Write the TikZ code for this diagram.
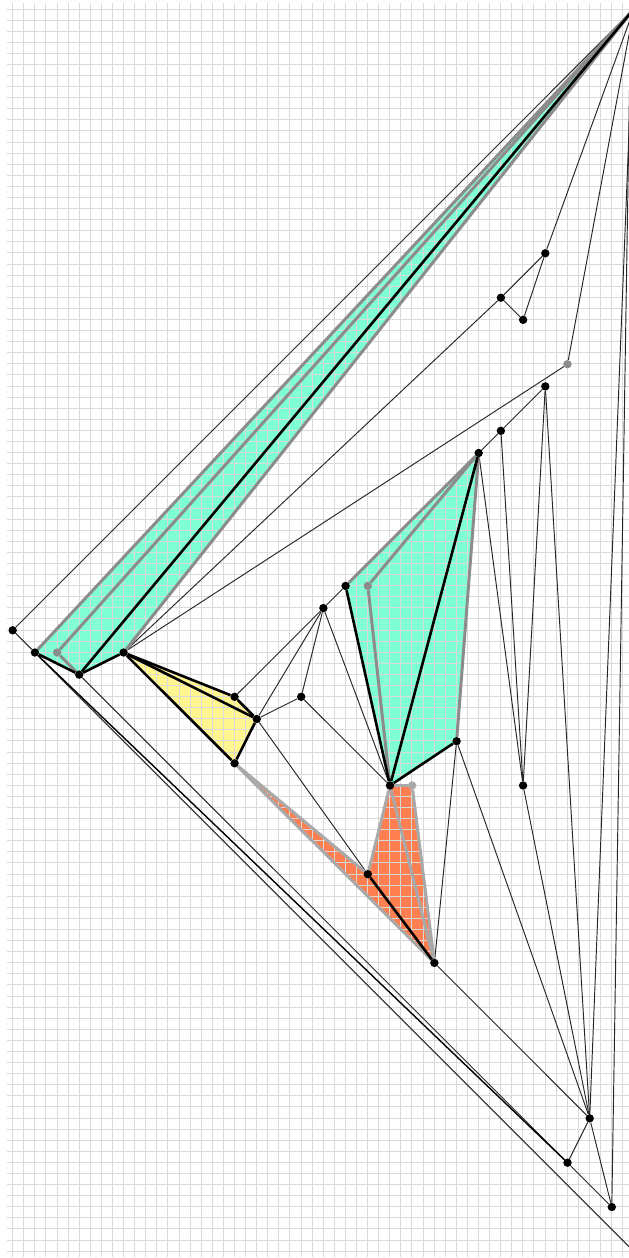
\documentclass[tikz,border=0pt]{standalone}
\pgfdeclarelayer{fills}
\pgfdeclarelayer{edges}
\pgfsetlayers{fills,edges,main}
\definecolor{gridc}{HTML}{DADADA}
\definecolor{aqua}{HTML}{7FFFD4}
\definecolor{coralc}{HTML}{FF7F50}
\definecolor{khakic}{HTML}{FFF68F}
\definecolor{grayA}{HTML}{8C8C8C}
\definecolor{grayB}{HTML}{A9A9A9}
\tikzset{
  pt/.style={circle,fill=black,inner sep=0pt,minimum size=8.4pt},
  ptgray/.style={pt,fill=grayA},
  ptlight/.style={pt,fill=grayB},
  thin edge/.style={draw=black!85,line width=0.95pt},
  mid edge/.style={draw=black,line width=1.4pt},
  bold edge/.style={draw=black,line width=2.6pt},
  gray edge/.style={draw=grayA,line width=3pt},
  light edge/.style={draw=grayB,line width=3pt},
  gridline/.style={draw=gridc,line width=1pt},
}
\begin{document}
\begin{tikzpicture}[x=1pt,y=-1pt]
\useasboundingbox (0,0) rectangle (629,1258);
\clip (0,0) rectangle (629,1258);
% points
\node[pt] (A) at (12.7,630.3) {};
\coordinate (Z) at (633.9,9);
\coordinate (Zb) at (633.9,1251.5);
\coordinate (Zc) at (633.9,-190);
\node[pt] (B) at (34.9,652.5) {};
\node[ptgray] (G) at (57.1,652.5) {};
\node[pt] (C) at (79.2,674.6) {};
\node[pt] (D) at (123.6,652.5) {};
\node[pt] (E) at (234.6,696.8) {};
\node[pt] (F) at (256.8,719) {};
\node[pt] (H) at (234.6,763.3) {};
\node[pt] (I) at (301.2,696.8) {};
\node[pt] (J) at (323.4,608.1) {};
\node[pt] (K) at (345.6,585.9) {};
\node[ptgray] (L) at (367.8,585.9) {};
\node[pt] (M) at (390,785.5) {};
\node[ptlight] (N) at (412.1,785.5) {};
\node[pt] (O) at (367.8,874.2) {};
\node[pt] (P) at (434.4,962.9) {};
\node[pt] (Q) at (456.6,741.2) {};
\node[pt] (R) at (478.7,453) {};
\node[pt] (S) at (500.9,430.8) {};
\node[pt] (T) at (545.3,386.4) {};
\node[pt] (U) at (523.1,785.5) {};
\node[pt] (V) at (589.7,1118.3) {};
\node[pt] (W) at (567.5,1162.7) {};
\node[pt] (X) at (611.8,1207) {};
\node[pt] (Y) at (500.9,297.7) {};
\node[pt] (AA) at (523.1,319.8) {};
\node[pt] (AB) at (545.3,253.3) {};
\node[ptgray] (AC) at (567.5,364.2) {};
% fills and grid
\begin{pgfonlayer}{fills}
\fill[aqua] (B.center)--(Z)--(D.center)--(C.center)--cycle;
\fill[aqua] (K.center)--(R.center)--(Q.center)--(M.center)--cycle;
\fill[khakic] (D.center)--(E.center)--(F.center)--(H.center)--cycle;
\fill[coralc] (H.center)--(O.center)--(M.center)--(N.center)--(P.center)--cycle;
\foreach \i in {0,...,55} \draw[gridline] ({12.7+11.09*\i},3.4)--({12.7+11.09*\i},1257);
\foreach \i in {0,...,112} \draw[gridline] (7.1,{9+11.09*\i})--(629,{9+11.09*\i});
\end{pgfonlayer}
\begin{pgfonlayer}{edges}
% thin edges
\draw[thin edge] (A)--(Z);
\draw[thin edge] (A)--(B);
\draw[thin edge] (B)--(Zb);
\draw[thin edge] (C)--(W);
\draw[thin edge] (W)--(X);
\draw[mid edge] (B)--(W);
\draw[thin edge] (W)--(V);
\draw[thin edge] (V)--(X);
\draw[thin edge] (X)--(Zc);
\draw[thin edge] (V)--(Z);
\draw[thin edge] (P)--(V);
\draw[thin edge] (D)--(AC);
\draw[thin edge] (AC)--(Z);
\draw[thin edge] (D)--(Y);
\draw[thin edge] (Y)--(AB);
\draw[thin edge] (Y)--(AA);
\draw[thin edge] (AA)--(AB);
\draw[thin edge] (AB)--(Z);
\draw[thin edge] (E)--(J);
\draw[thin edge] (F)--(J);
\draw[thin edge] (F)--(I);
\draw[thin edge] (I)--(J);
\draw[thin edge] (I)--(M);
\draw[thin edge] (J)--(M);
\draw[thin edge] (J)--(K);
\draw[thin edge] (F)--(O);
\draw[thin edge] (R)--(S);
\draw[thin edge] (S)--(T);
\draw[thin edge] (R)--(U);
\draw[thin edge] (S)--(U);
\draw[thin edge] (T)--(U);
\draw[thin edge] (T)--(V);
\draw[thin edge] (U)--(V);
\draw[thin edge] (Q)--(V);
\draw[thin edge] (Q)--(P);
% gray edges
\draw[gray edge] (B)--(Z);
\draw[gray edge] (G)--(Z);
\draw[gray edge] (D)--(Z);
\draw[gray edge] (G)--(C);
\draw[gray edge] (K)--(R);
\draw[gray edge] (L)--(R);
\draw[gray edge] (L)--(M);
\draw[gray edge] (R)--(Q);
\draw[light edge] (H)--(O);
\draw[light edge] (H)--(P);
\draw[light edge] (O)--(M);
\draw[light edge] (M)--(N);
\draw[light edge] (N)--(P);
\draw[light edge] (M)--(P);
% bold edges
\draw[bold edge] (B)--(C);
\draw[bold edge] (C)--(D);
\draw[bold edge] (C)--(Z);
\draw[bold edge] (D)--(E);
\draw[bold edge] (E)--(F);
\draw[bold edge] (D)--(F);
\draw[bold edge] (D)--(H);
\draw[bold edge] (H)--(F);
\draw[bold edge] (K)--(M);
\draw[bold edge] (R)--(M);
\draw[bold edge] (M)--(Q);
\draw[bold edge] (O)--(P);
\end{pgfonlayer}
\end{tikzpicture}
\end{document}
